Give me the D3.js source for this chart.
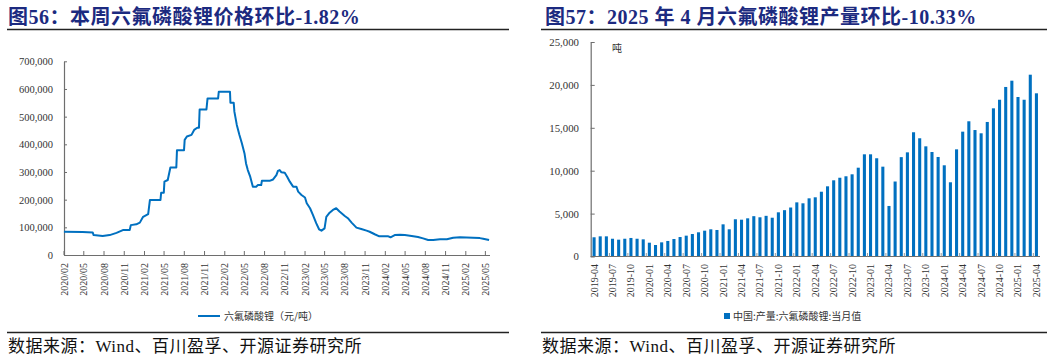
<!DOCTYPE html>
<html><head><meta charset="utf-8">
<script src="https://cdn.jsdelivr.net/npm/d3@7"></script>
<style>
body{margin:0;background:#fff;}
svg{display:block;font-family:"Liberation Serif","Noto Sans CJK SC",serif;}
</style></head><body>
<svg id="c" width="1057" height="359"></svg>
<script>
// ---------- Data: left chart (LiPF6 price, yuan/ton) ----------
const priceDates = ["2020-02-03","2020-04-28","2020-06-13","2020-06-17","2020-07-28","2020-08-29","2020-09-29","2020-10-28","2020-11-28","2020-12-03","2020-12-28","2021-01-13","2021-01-28","2021-02-20","2021-02-28","2021-04-17","2021-04-20","2021-05-02","2021-05-05","2021-05-20","2021-06-01","2021-06-28","2021-07-01","2021-08-02","2021-08-05","2021-08-15","2021-09-05","2021-09-17","2021-10-01","2021-10-09","2021-10-12","2021-11-12","2021-11-17","2022-01-04","2022-01-07","2022-02-27","2022-03-01","2022-03-16","2022-03-19","2022-03-30","2022-04-11","2022-04-22","2022-05-04","2022-05-11","2022-05-19","2022-05-30","2022-06-11","2022-06-26","2022-07-04","2022-07-19","2022-07-22","2022-08-26","2022-09-11","2022-09-26","2022-10-03","2022-10-11","2022-10-19","2022-11-03","2022-11-14","2022-11-26","2022-12-11","2022-12-26","2023-01-03","2023-01-18","2023-02-03","2023-02-11","2023-02-26","2023-03-11","2023-03-26","2023-04-08","2023-04-19","2023-05-03","2023-05-11","2023-05-26","2023-06-10","2023-06-25","2023-07-10","2023-08-03","2023-08-17","2023-09-03","2023-09-25","2023-10-17","2023-11-10","2023-11-24","2023-12-17","2024-01-07","2024-02-17","2024-02-27","2024-03-17","2024-04-10","2024-05-02","2024-06-02","2024-07-01","2024-07-24","2024-08-16","2024-09-08","2024-10-09","2024-11-09","2024-12-08","2025-01-08","2025-03-08","2025-04-08","2025-04-23","2025-05-20"];
const priceValues = [84000,83000,81000,72000,69000,72000,80000,90000,90000,108000,111000,117000,138000,148000,199000,199000,225000,225000,265000,271000,316000,316000,379000,379000,416000,428000,434000,452000,460000,460000,526000,526000,566000,566000,590000,590000,550000,550000,518000,470000,434000,404000,367000,331000,307000,283000,247000,247000,253000,253000,268000,268000,273000,289000,304000,307000,299000,297000,283000,265000,247000,247000,229000,217000,208000,187000,169000,145000,115000,93000,88000,96000,138000,153000,163000,169000,157000,141000,133000,117000,99000,94000,88000,84000,75000,67500,67500,64000,72000,73000,72000,69000,65000,60000,54000,54000,57000,57000,62500,64000,62500,61000,59000,54000];
const priceTicks = ["2020/02","2020/05","2020/08","2020/11","2021/02","2021/05","2021/08","2021/11","2022/02","2022/05","2022/08","2022/11","2023/02","2023/05","2023/08","2023/11","2024/02","2024/05","2024/08","2024/11","2025/02","2025/05"];
const priceYTicks = [0,100000,200000,300000,400000,500000,600000,700000];
const priceTitle = "图56：本周六氟磷酸锂价格环比-1.82%";
const priceLegend = "六氟磷酸锂（元/吨）";

// ---------- Data: right chart (LiPF6 monthly output, ton) ----------
const prodMonths = ["2019-04","2019-05","2019-06","2019-07","2019-08","2019-09","2019-10","2019-11","2019-12","2020-01","2020-02","2020-03","2020-04","2020-05","2020-06","2020-07","2020-08","2020-09","2020-10","2020-11","2020-12","2021-01","2021-02","2021-03","2021-04","2021-05","2021-06","2021-07","2021-08","2021-09","2021-10","2021-11","2021-12","2022-01","2022-02","2022-03","2022-04","2022-05","2022-06","2022-07","2022-08","2022-09","2022-10","2022-11","2022-12","2023-01","2023-02","2023-03","2023-04","2023-05","2023-06","2023-07","2023-08","2023-09","2023-10","2023-11","2023-12","2024-01","2024-02","2024-03","2024-04","2024-05","2024-06","2024-07","2024-08","2024-09","2024-10","2024-11","2024-12","2025-01","2025-02","2025-03","2025-04"];
const prodValues = [2240,2350,2350,2070,1960,2070,2160,2070,2000,1610,1340,1650,1810,2040,2270,2430,2620,2820,3010,3170,3090,3750,3170,4340,4290,4450,4700,4570,4740,4520,5150,5400,5710,6310,6200,6780,6900,7550,8180,8880,9180,9350,9580,10350,11910,11910,11450,10470,5890,8740,11580,12140,14480,13780,12840,12180,11600,10630,8650,12490,14550,15760,14740,14360,15680,17270,18270,19760,20490,18590,18270,21190,19020];
const prodTicks = ["2019-04","2019-07","2019-10","2020-01","2020-04","2020-07","2020-10","2021-01","2021-04","2021-07","2021-10","2022-01","2022-04","2022-07","2022-10","2023-01","2023-04","2023-07","2023-10","2024-01","2024-04","2024-07","2024-10","2025-01","2025-04"];
const prodYTicks = [0,5000,10000,15000,20000,25000];
const prodTitle = "图57：2025 年 4 月六氟磷酸锂产量环比-10.33%";
const prodLegend = "中国:产量:六氟磷酸锂:当月值";
const prodUnit = "吨";
const sourceText = "数据来源：Wind、百川盈孚、开源证券研究所";

// ---------- Drawing ----------
const svg = d3.select("#c");
const NAVY = "#1c2a80", BLUE = "#0070C0", AXIS = "#6e6e6e", TXT = "#333";

function frame(x0, x1, title, tx) {
  svg.append("text").attr("x", tx).attr("y", 24)
    .attr("font-size", 20).attr("font-weight", "bold").attr("letter-spacing", 0.5)
    .attr("fill", NAVY).text(title);
  svg.append("line").attr("x1", x0).attr("x2", x1).attr("y1", 29.5).attr("y2", 29.5)
    .attr("stroke", "#222").attr("stroke-width", 1.3);
  svg.append("line").attr("x1", x0).attr("x2", x1).attr("y1", 332.5).attr("y2", 332.5)
    .attr("stroke", "#222").attr("stroke-width", 1.3);
  svg.append("text").attr("x", x0 + 1).attr("y", 352).attr("letter-spacing", 0.5)
    .attr("font-size", 17).attr("fill", "#111").text(sourceText);
}
frame(7, 509, priceTitle, 8);
frame(541, 1047, prodTitle, 545);

function styleAxis(g) {
  g.selectAll(".domain").attr("stroke", AXIS).attr("stroke-width", 1.2);
  g.selectAll(".tick line").attr("stroke", AXIS);
  g.selectAll("text").attr("fill", TXT).attr("font-family", "Liberation Serif");
}

// Left chart
const parseD = d3.timeParse("%Y-%m-%d"), parseM = d3.timeParse("%Y/%m");
const xT = d3.scaleTime().domain([new Date(2020,1,1), new Date(2025,4,22)]).range([63.5, 489.5]);
const yP = d3.scaleLinear().domain([0, 700000]).range([255, 61.3]);

const gy = svg.append("g").attr("transform", "translate(64,0)")
  .call(d3.axisLeft(yP).tickValues(priceYTicks).tickFormat(d3.format(","))
    .tickSizeInner(-3).tickSizeOuter(0).tickPadding(11));
gy.attr("font-size", 10.5);
styleAxis(gy);

const gx = svg.append("g").attr("transform", "translate(0,255)")
  .call(d3.axisBottom(xT).tickValues(priceTicks.map(parseM)).tickFormat(d3.timeFormat("%Y/%m"))
    .tickSizeInner(-4).tickSizeOuter(0));
gx.attr("font-size", 10);
gx.selectAll("text").attr("transform", "rotate(-90)").attr("x", -8).attr("y", 0)
  .attr("dy", "0.35em").attr("text-anchor", "end");
styleAxis(gx);

const pts = priceDates.map((d, i) => ({date: parseD(d), v: priceValues[i]}));
svg.append("path").datum(pts).attr("fill", "none").attr("stroke", BLUE).attr("stroke-width", 2)
  .attr("stroke-linejoin", "round")
  .attr("d", d3.line().x(d => xT(d.date)).y(d => yP(d.v)));

svg.append("line").attr("x1", 198).attr("x2", 220).attr("y1", 316).attr("y2", 316)
  .attr("stroke", BLUE).attr("stroke-width", 2);
svg.append("text").attr("x", 224).attr("y", 316).attr("dy", "0.35em")
  .attr("font-size", 10).attr("font-family", "Noto Sans CJK SC").attr("fill", TXT).text(priceLegend);

// Right chart
const xB = d3.scaleBand().domain(prodMonths).range([591, 1039.5]).paddingInner(0.5).paddingOuter(0.25);
const yB = d3.scaleLinear().domain([0, 25000]).range([256.5, 42]);

const gy2 = svg.append("g").attr("transform", "translate(590.7,0)")
  .call(d3.axisLeft(yB).tickValues(prodYTicks).tickFormat(d3.format(","))
    .tickSizeInner(-4).tickSizeOuter(0).tickPadding(11.7));
gy2.attr("font-size", 10.8);
styleAxis(gy2);

svg.append("g").selectAll("rect").data(prodMonths).join("rect")
  .attr("x", d => xB(d)).attr("width", xB.bandwidth())
  .attr("y", (d, i) => yB(prodValues[i])).attr("height", (d, i) => yB(0) - yB(prodValues[i]))
  .attr("fill", BLUE);

// x axis line + ticks + labels
const gx2 = svg.append("g");
gx2.append("line").attr("x1", 590.7).attr("x2", 1040).attr("y1", 256.5).attr("y2", 256.5)
  .attr("stroke", AXIS).attr("stroke-width", 1.2);
const gap = xB.step() - xB.bandwidth();
gx2.selectAll("line.tk").data(prodTicks.slice(1)).join("line").attr("class", "tk")
  .attr("x1", d => xB(d) - gap / 2).attr("x2", d => xB(d) - gap / 2)
  .attr("y1", 256.5).attr("y2", 253).attr("stroke", "#999");
gx2.selectAll("text").data(prodTicks).join("text")
  .attr("transform", d => `translate(${xB(d) + xB.bandwidth() / 2},264) rotate(-90)`)
  .attr("text-anchor", "end").attr("dy", "0.35em")
  .attr("font-size", 10).attr("fill", TXT).text(d => d);

svg.append("text").attr("x", 612).attr("y", 52).attr("font-size", 10)
  .attr("font-family", "Noto Sans CJK SC").attr("fill", TXT).text(prodUnit);

svg.append("rect").attr("x", 724).attr("y", 313).attr("width", 6).attr("height", 6).attr("fill", BLUE);
svg.append("text").attr("x", 733).attr("y", 316).attr("dy", "0.35em")
  .attr("font-size", 10).attr("font-family", "Noto Sans CJK SC").attr("fill", TXT).text(prodLegend);
</script>
</body></html>
